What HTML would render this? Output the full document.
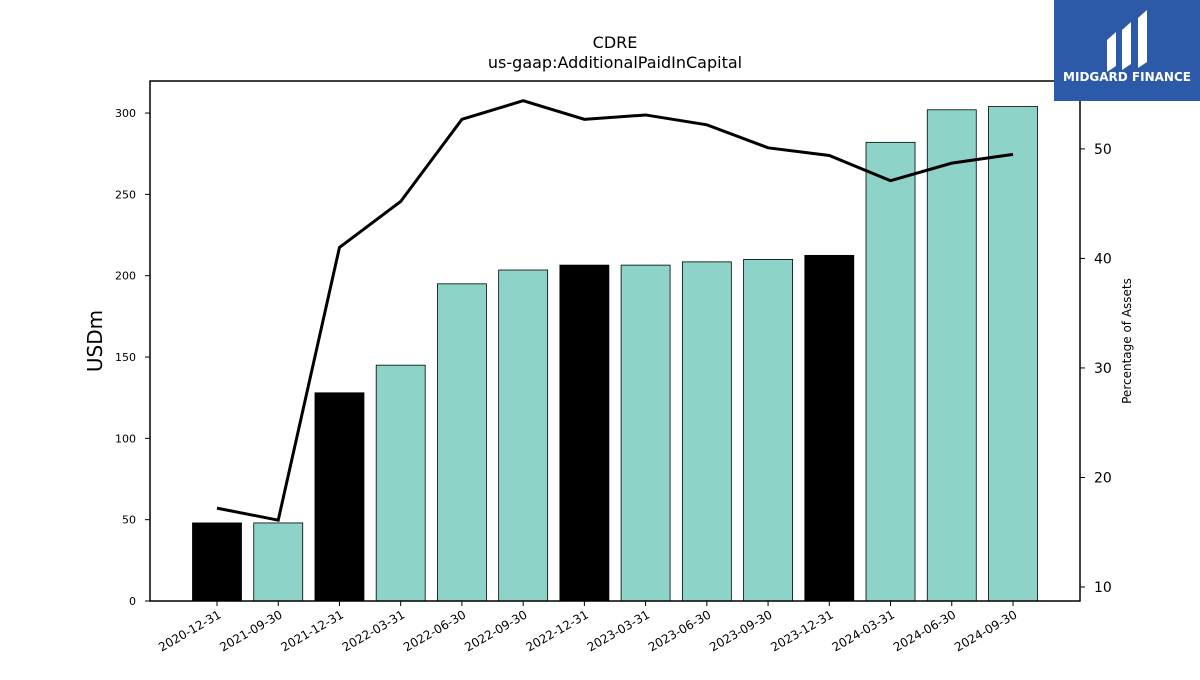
<!DOCTYPE html>
<html><head><meta charset="utf-8"><style>
body{margin:0;background:#fff;width:1200px;height:675px;overflow:hidden;font-family:"Liberation Sans","DejaVu Sans",sans-serif}
</style></head><body>
<svg id="chart" width="1200" height="675" xmlns="http://www.w3.org/2000/svg" font-family="DejaVu Sans, Liberation Sans, sans-serif">
<text x="615" y="48" text-anchor="middle" font-size="16">CDRE</text>
<text x="615" y="68" text-anchor="middle" font-size="16">us-gaap:AdditionalPaidInCapital</text>
<g id="bars"></g>
<g id="line"></g>
<rect x="150" y="81" width="930" height="520" fill="none" stroke="#000" stroke-width="1.5"/>
<g id="xaxis"></g>
<g id="yaxis"></g>
<g id="y2axis"></g>
<text transform="translate(102,341) rotate(-90)" text-anchor="middle" font-size="20">USDm</text>
<text transform="translate(1131,341) rotate(-90)" text-anchor="middle" font-size="12">Percentage of Assets</text>
<g>
<rect x="1054" y="0" width="146" height="101" fill="#2c5aa9"/>
<path d="M1107 40 L1116 32 L1116 66 L1107 72 Z M1122 30 L1131 22 L1131 64 L1122 70 Z M1138 18 L1147 10 L1147 62 L1138 68 Z" fill="#fff"/>
<text x="1127" y="81" text-anchor="middle" font-size="12" font-weight="bold" fill="#fff">MIDGARD FINANCE</text>
</g>
</svg>
<script>
const categories=["2020-12-31","2021-09-30","2021-12-31","2022-03-31","2022-06-30","2022-09-30","2022-12-31","2023-03-31","2023-06-30","2023-09-30","2023-12-31","2024-03-31","2024-06-30","2024-09-30"];
const barValues=[48,48,128,145,195,203.5,206.5,206.5,208.5,210,212.5,282,302,304];
const pctValues=[17.2,16.1,41.0,45.2,52.7,54.4,52.7,53.1,52.2,50.1,49.4,47.1,48.7,49.5];
const leftTicks=[0,50,100,150,200,250,300];
const rightTicks=[10,20,30,40,50];
const NS="http://www.w3.org/2000/svg";
const X0=150,X1=1080,Y0=601,Y1=81;
const yL=v=>Y0-(v/319.7)*(Y0-Y1);
const yR=v=>Y0-((v-8.72)/(56.2-8.72))*(Y0-Y1);
const step=61.23,first=217;
const xC=i=>first+i*step;
function mk(t,a,p){const e=document.createElementNS(NS,t);for(const k in a)e.setAttribute(k,a[k]);p.appendChild(e);return e;}
const bars=document.getElementById('bars');
categories.forEach((c,i)=>{
 const r=mk('rect',{x:xC(i)-24.5,y:yL(barValues[i]),width:49,height:Y0-yL(barValues[i]),fill:c.endsWith('12-31')?'#000':'#8dd3c7',stroke:'#000','stroke-width':0.8},bars);
 
 
});
const line=document.getElementById('line');
const pl=mk('polyline',{points:pctValues.map((v,i)=>xC(i)+','+yR(v)).join(' '),fill:'none',stroke:'#000','stroke-width':3},line);


const xa=document.getElementById('xaxis');
categories.forEach((c,i)=>{
 const x=xC(i);
 mk('line',{x1:x,y1:Y0,x2:x,y2:Y0+5,stroke:'#000'},xa);
 const t=mk('text',{transform:`translate(${x+5},${Y0+16}) rotate(-30)`,'text-anchor':'end','font-size':12},xa);
 t.textContent=c;
 
 
});
const ya=document.getElementById('yaxis');
leftTicks.forEach(v=>{
 const y=yL(v);
 mk('line',{x1:X0-5,y1:y,x2:X0,y2:y,stroke:'#000'},ya);
 const t=mk('text',{x:X0-14,y:y+4,'text-anchor':'end','font-size':11},ya);
 t.textContent=v;
 
 
});
const y2=document.getElementById('y2axis');
rightTicks.forEach(v=>{
 const y=yR(v);
 mk('line',{x1:X1,y1:y,x2:X1+5,y2:y,stroke:'#000'},y2);
 const t=mk('text',{x:X1+14,y:y+5,'text-anchor':'start','font-size':14},y2);
 t.textContent=v;
 
 
});
</script>
</body></html>
